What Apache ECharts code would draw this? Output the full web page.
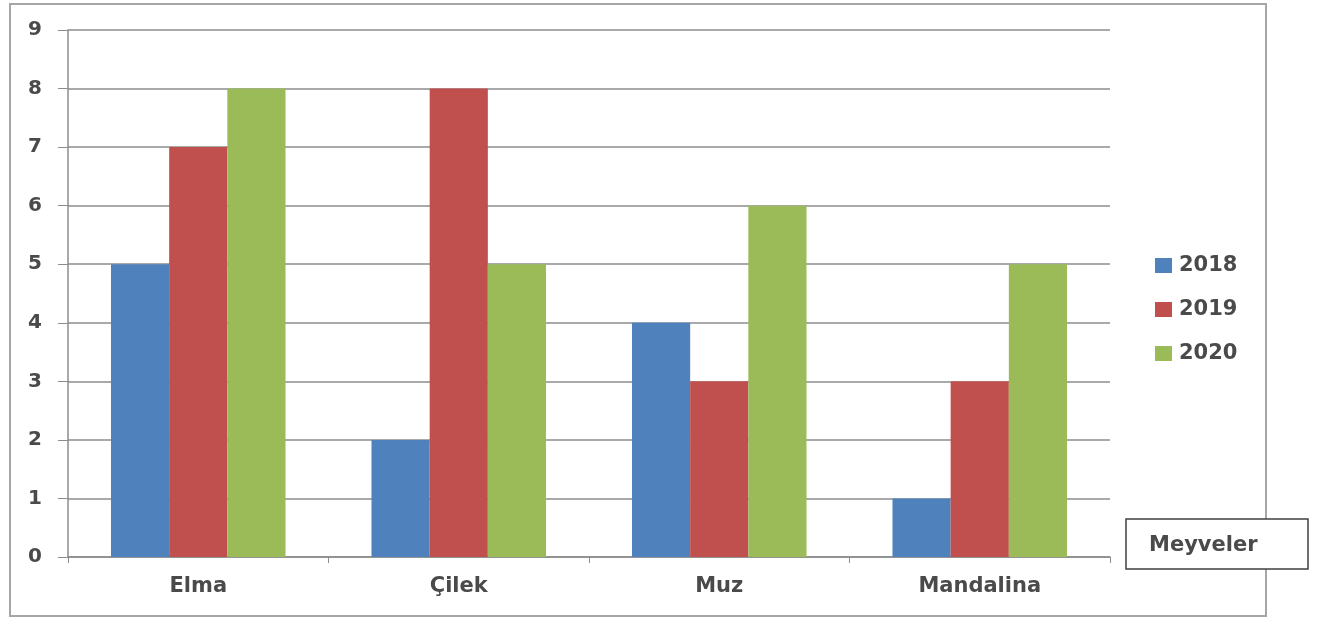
<!DOCTYPE html>
<html>
<head>
<meta charset="utf-8">
<script src="https://cdn.jsdelivr.net/npm/echarts@6/dist/echarts.min.js"></script>
<style>
  html, body { margin: 0; padding: 0; background: #fff; }
  #chart { width: 1317px; height: 621px; }
</style>
</head>
<body>
<div id="chart"></div>
<script type="text/javascript">
// veriler
var categories = ['Elma', 'Çilek', 'Muz', 'Mandalina'];
var seriesNames = ['2018', '2019', '2020'];
var values2018 = [5, 2, 4, 1];
var values2019 = [7, 8, 3, 3];
var values2020 = [8, 5, 6, 5];
var yTicks = [0, 1, 2, 3, 4, 5, 6, 7, 8, 9];
var axisTitle = 'Meyveler';

var colors = ['#4F81BD', '#C0504D', '#9BBB59'];
var textColor = '#4a4a4a';
var fontFamily = '"DejaVu Sans", "Open Sans", sans-serif';

var chart = echarts.init(document.getElementById('chart'));

var allValues = [values2018, values2019, values2020];
var series = [];
for (let i = 0; i < seriesNames.length; i++) {
  series.push({
    name: seriesNames[i],
    type: 'bar',
    data: allValues[i],
    barGap: '0%',
    barCategoryGap: '33%',
    itemStyle: { color: colors[i] }
  });
}

chart.setOption({
  animation: false,
  textStyle: { fontFamily: fontFamily },
  grid: {
    left: 68,
    right: 207,
    top: 30,
    bottom: 64
  },
  legend: {
    orient: 'vertical',
    left: 1155,
    top: 255,
    padding: 0,
    itemWidth: 17,
    itemHeight: 15,
    itemGap: 23,
    icon: 'rect',
    data: seriesNames,
    textStyle: {
      color: textColor,
      fontSize: 21,
      fontWeight: 'bold',
      lineHeight: 21,
      padding: [0, 0, 0, 2]
    }
  },
  xAxis: {
    type: 'category',
    data: categories,
    axisLine: { lineStyle: { color: '#8c8c8c', width: 1.5 } },
    axisTick: { show: true, length: 6, lineStyle: { color: '#8c8c8c' } },
    axisLabel: {
      color: textColor,
      fontSize: 21,
      fontWeight: 'bold',
      margin: 19
    }
  },
  yAxis: {
    type: 'value',
    min: yTicks[0],
    max: yTicks[yTicks.length - 1],
    interval: 1,
    axisLine: { show: true, lineStyle: { color: '#8c8c8c', width: 1.5 } },
    axisTick: { show: true, length: 10, inside: false, lineStyle: { color: '#8c8c8c' } },
    splitLine: { lineStyle: { color: '#8c8c8c', width: 1.5 } },
    axisLabel: {
      color: textColor,
      fontSize: 20,
      fontWeight: 'bold',
      margin: 26
    }
  },
  graphic: [
    {
      type: 'rect',
      z: -1,
      shape: { x: 10, y: 4, width: 1256, height: 612 },
      style: { fill: 'none', stroke: '#a6a6a6', lineWidth: 2 }
    },
    {
      type: 'rect',
      z: 10,
      shape: { x: 1126, y: 519, width: 182, height: 50 },
      style: { fill: '#fff', stroke: '#404040', lineWidth: 1.5 }
    },
    {
      type: 'text',
      z: 11,
      x: 1149,
      y: 546,
      style: {
        text: axisTitle,
        fill: textColor,
        font: 'bold 21px ' + fontFamily,
        align: 'left',
        verticalAlign: 'middle'
      }
    }
  ],
  series: series
});
</script>
</body>
</html>
